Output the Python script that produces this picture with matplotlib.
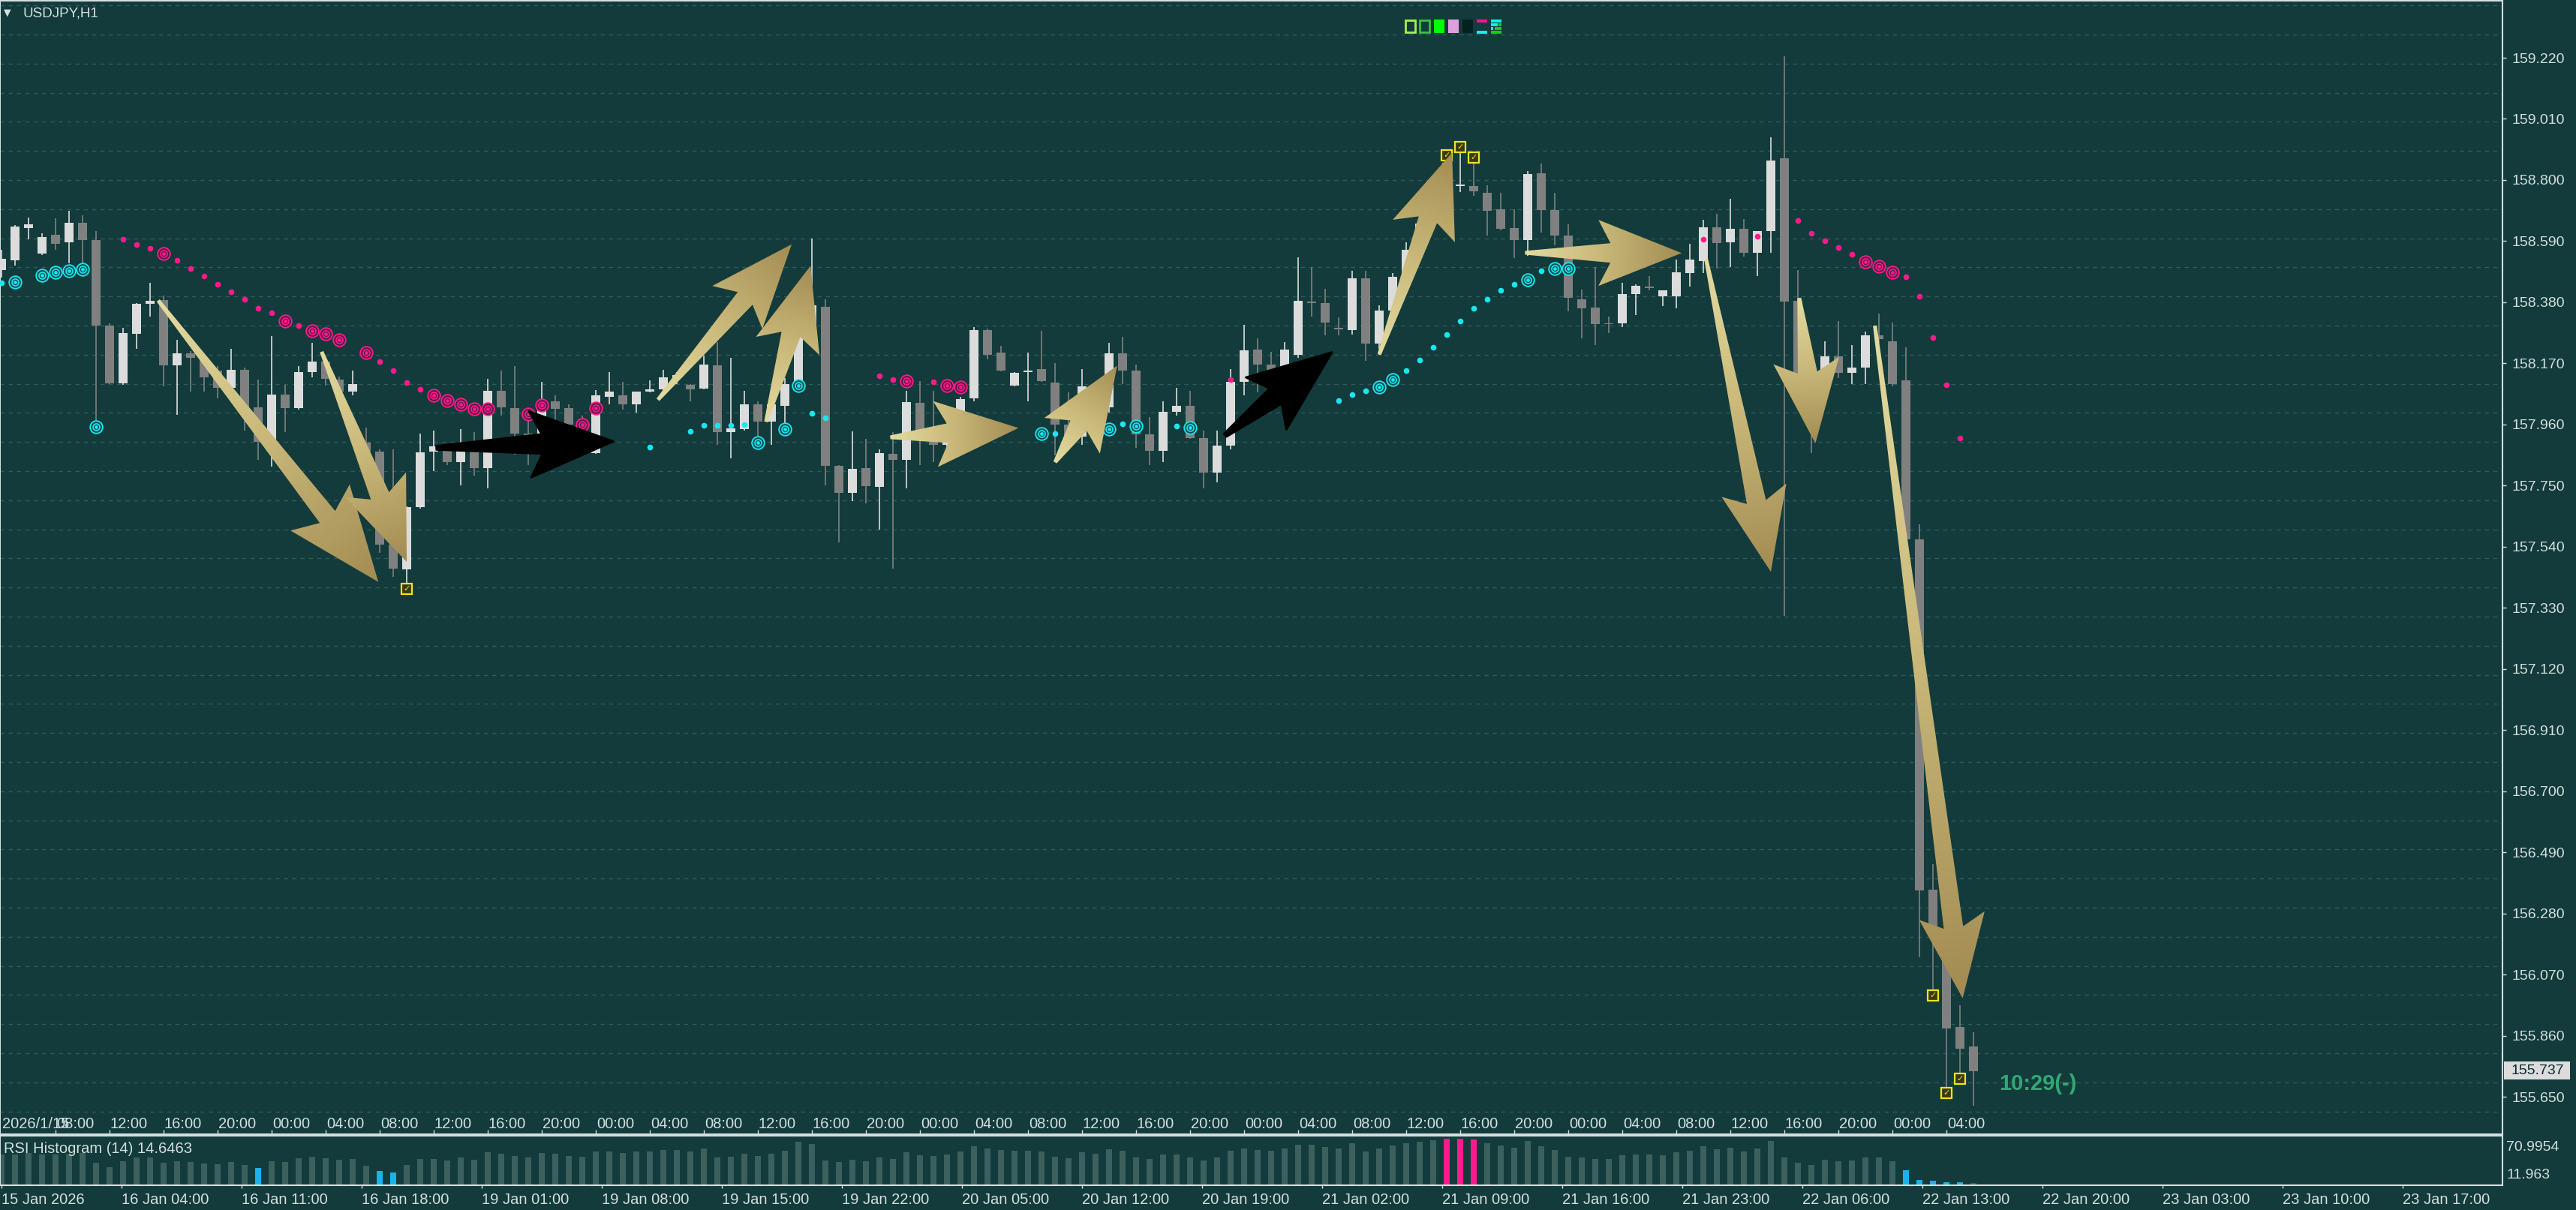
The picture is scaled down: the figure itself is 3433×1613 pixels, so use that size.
import numpy as np
import pandas as pd
import matplotlib
matplotlib.use("Agg")
import matplotlib.pyplot as plt
import matplotlib.transforms as mtransforms
from matplotlib.patches import Polygon, Rectangle
from matplotlib.colors import LinearSegmentedColormap

# размеры картинки и цвета терминала
W, H, DPI = 3433, 1613, 100
BG = '#133b3b'
FG = '#d4dede'
GRID = '#2f5a5a'
BULL = '#dcdcdc'
BEAR = '#808080'
PINK = '#ff1a8c'
CYAN = '#16e8f0'

plt.rcParams['font.family'] = ['Liberation Sans', 'DejaVu Sans']

# бары H1: 15-16 янв и 19-23 янв (выходные пропущены)
bar_times = list(pd.date_range('2026-01-15 04:00', '2026-01-16 23:00', freq='h')) + \
    list(pd.date_range('2026-01-19 00:00', '2026-01-23 06:00', freq='h'))

opens = [158.490, 158.524, 158.636, 158.547, 158.611, 158.586, 158.653, 158.593, 158.300, 158.102,
         158.272, 158.375, 158.387, 158.163, 158.204, 158.190, 158.146, 158.086, 158.149, 158.020,
         157.900, 158.062, 158.017, 158.140, 158.176, 158.114, 158.073, 157.898, 157.868, 157.548,
         157.463, 157.677, 157.868, 157.884, 157.830, 157.893, 157.810, 158.075, 158.017, 157.930,
         157.900, 158.040, 158.017, 157.960, 157.861, 158.056, 158.060, 158.030, 158.073, 158.080,
         158.120, 158.097, 158.083, 158.163, 157.934, 157.944, 158.029, 157.970, 158.024, 158.100,
         158.280, 158.365, 157.817, 157.725, 157.810, 157.746, 157.860, 157.838, 158.035, 157.940,
         157.890, 157.893, 158.050, 158.284, 158.206, 158.095, 158.139, 158.150, 158.104, 157.960,
         157.918, 158.020, 158.020, 158.205, 158.145, 157.927, 157.870, 158.004, 158.024, 157.913,
         157.796, 157.888, 158.107, 158.217, 158.167, 158.120, 158.200, 158.383, 158.376, 158.291,
         158.284, 158.461, 158.238, 158.351, 158.460, 158.560, 158.650, 158.760, 158.780, 158.780,
         158.756, 158.700, 158.634, 158.595, 158.822, 158.697, 158.609, 158.391, 158.362, 158.306,
         158.307, 158.408, 158.432, 158.400, 158.401, 158.480, 158.522, 158.638, 158.585, 158.632,
         158.549, 158.625, 158.875, 158.384, 158.120, 158.125, 158.194, 158.138, 158.155, 158.266,
         158.246, 158.112, 157.566, 156.363, 156.226, 155.889, 155.822]

highs = [158.560, 158.645, 158.671, 158.616, 158.668, 158.694, 158.678, 158.625, 158.307, 158.292,
         158.378, 158.447, 158.404, 158.252, 158.211, 158.200, 158.160, 158.220, 158.155, 158.114,
         158.263, 158.096, 158.160, 158.241, 158.190, 158.125, 158.144, 157.950, 157.875, 157.874,
         157.680, 157.930, 157.940, 157.890, 157.944, 157.935, 158.118, 158.145, 158.162, 158.010,
         158.107, 158.060, 158.030, 157.990, 158.077, 158.140, 158.107, 158.073, 158.113, 158.149,
         158.140, 158.100, 158.197, 158.243, 158.190, 158.075, 158.040, 158.050, 158.120, 158.350,
         158.600, 158.390, 157.820, 157.936, 157.910, 157.875, 157.933, 158.075, 158.110, 158.075,
         157.960, 158.055, 158.296, 158.290, 158.230, 158.140, 158.208, 158.282, 158.171, 158.070,
         158.150, 158.100, 158.240, 158.260, 158.167, 157.985, 158.040, 158.087, 158.076, 157.940,
         157.940, 158.150, 158.302, 158.255, 158.210, 158.243, 158.535, 158.500, 158.426, 158.328,
         158.487, 158.487, 158.370, 158.480, 158.586, 158.680, 158.780, 158.900, 158.899, 158.862,
         158.782, 158.755, 158.700, 158.830, 158.857, 158.756, 158.648, 158.424, 158.500, 158.331,
         158.448, 158.441, 158.471, 158.420, 158.526, 158.580, 158.664, 158.684, 158.736, 158.665,
         158.613, 158.947, 159.224, 158.490, 158.150, 158.246, 158.316, 158.234, 158.279, 158.342,
         158.310, 158.226, 157.616, 156.450, 156.250, 155.964, 155.873]

lows = [158.465, 158.505, 158.597, 158.542, 158.561, 158.515, 158.505, 157.958, 158.100, 158.096,
        158.220, 158.330, 158.091, 157.994, 158.073, 158.073, 158.050, 158.080, 157.940, 157.838,
        157.815, 157.934, 158.010, 158.122, 158.095, 158.060, 158.059, 157.850, 157.520, 157.437,
        157.405, 157.670, 157.800, 157.820, 157.750, 157.785, 157.741, 157.990, 157.856, 157.820,
        157.880, 157.970, 157.930, 157.900, 157.858, 158.030, 158.010, 158.002, 158.070, 158.075,
        158.100, 158.040, 158.080, 157.891, 157.845, 157.940, 157.900, 157.890, 157.957, 158.090,
        158.260, 157.750, 157.554, 157.697, 157.690, 157.600, 157.465, 157.740, 157.820, 157.830,
        157.850, 157.890, 158.040, 158.183, 158.143, 158.090, 158.040, 158.107, 157.853, 157.870,
        157.890, 157.950, 158.000, 158.100, 157.880, 157.820, 157.830, 157.990, 157.910, 157.741,
        157.760, 157.874, 158.060, 158.070, 158.080, 158.100, 158.190, 158.330, 158.266, 158.266,
        158.270, 158.180, 158.220, 158.330, 158.440, 158.540, 158.630, 158.740, 158.758, 158.745,
        158.610, 158.627, 158.533, 158.540, 158.619, 158.575, 158.349, 158.257, 158.233, 158.274,
        158.296, 158.337, 158.420, 158.368, 158.358, 158.435, 158.480, 158.496, 158.500, 158.538,
        158.470, 158.550, 157.303, 158.070, 157.862, 158.100, 158.120, 158.100, 158.100, 158.240,
        158.090, 157.550, 156.131, 155.998, 155.650, 155.723, 155.620]

closes = [158.530, 158.641, 158.648, 158.604, 158.582, 158.653, 158.593, 158.300, 158.102, 158.273,
          158.375, 158.384, 158.163, 158.204, 158.190, 158.121, 158.086, 158.149, 158.020, 157.900,
          158.062, 158.017, 158.140, 158.176, 158.117, 158.073, 158.100, 157.868, 157.548, 157.465,
          157.677, 157.864, 157.884, 157.831, 157.893, 157.810, 158.075, 158.020, 157.930, 157.900,
          158.013, 158.015, 157.960, 157.930, 158.060, 158.073, 158.030, 158.073, 158.080, 158.123,
          158.130, 158.082, 158.166, 157.934, 157.948, 158.029, 157.970, 158.030, 158.100, 158.283,
          158.370, 157.817, 157.725, 157.807, 157.748, 157.861, 157.838, 158.038, 157.940, 157.890,
          157.950, 158.047, 158.284, 158.199, 158.146, 158.137, 158.146, 158.109, 157.960, 157.918,
          158.091, 158.070, 158.205, 158.144, 157.927, 157.870, 158.004, 158.024, 157.913, 157.796,
          157.888, 158.107, 158.215, 158.167, 158.120, 158.217, 158.385, 158.378, 158.309, 158.286,
          158.461, 158.238, 158.351, 158.468, 158.560, 158.650, 158.765, 158.860, 158.784, 158.762,
          158.694, 158.632, 158.595, 158.820, 158.697, 158.609, 158.395, 158.358, 158.305, 158.305,
          158.408, 158.437, 158.430, 158.420, 158.483, 158.526, 158.638, 158.583, 158.632, 158.549,
          158.625, 158.868, 158.382, 158.125, 158.020, 158.194, 158.138, 158.155, 158.266, 158.253,
          158.099, 157.566, 156.360, 156.226, 155.886, 155.815, 155.737]

# точки SAR снизу (голубые) и сверху (розовые); ring - точки в виде мишени
sar_up_idx = [0, 1, 3, 4, 5, 6, 7, 48, 51, 52, 53, 54, 55, 56, 58, 59, 60, 61,
              77, 78, 81, 82, 83, 84, 87, 88,
              99, 100, 101, 102, 103, 104, 105, 106, 107, 108, 109, 110, 111, 112, 113, 114, 115, 116]
sar_up_val = [158.448, 158.450, 158.473, 158.484, 158.488, 158.492, 157.953, 157.882, 157.936, 157.956,
              157.957, 157.956, 157.960, 157.898, 157.945, 158.093, 157.999, 157.983,
              157.930, 157.929, 157.936, 157.943, 157.961, 157.955, 157.955, 157.950,
              158.042, 158.064, 158.076, 158.088, 158.114, 158.144, 158.182, 158.224, 158.270, 158.316,
              158.360, 158.390, 158.422, 158.441, 158.458, 158.487, 158.497, 158.496]
sar_up_ring = [1, 3, 4, 5, 6, 7, 56, 58, 59, 77, 82, 84, 88, 102, 103, 113, 115, 116]

sar_dn_idx = [9, 10, 11, 12, 13, 14, 15, 16, 17, 18, 19, 20, 21, 22, 23, 24, 25,
              27, 28, 29, 30, 31, 32, 33, 34, 35, 36, 39, 40, 43, 44,
              65, 66, 67, 69, 70, 71, 91, 126, 130,
              133, 134, 135, 136, 137, 138, 139, 140, 141, 142, 143, 144, 145]
sar_dn_val = [158.597, 158.579, 158.565, 158.547, 158.524, 158.496, 158.471, 158.441, 158.416, 158.390,
              158.358, 158.344, 158.315, 158.300, 158.283, 158.271, 158.250,
              158.206, 158.176, 158.144, 158.105, 158.082, 158.061, 158.043, 158.029, 158.015, 158.015,
              157.996, 158.027, 157.960, 158.017,
              158.128, 158.114, 158.108, 158.107, 158.093, 158.088, 158.114, 158.596, 158.607,
              158.660, 158.618, 158.592, 158.568, 158.545, 158.518, 158.503, 158.484, 158.467, 158.400,
              158.259, 158.096, 157.914]
sar_dn_ring = [12, 21, 23, 24, 25, 27, 32, 33, 34, 35, 36, 39, 40, 43, 44, 67, 70, 71, 138, 139, 140]

# жёлтые отметки
check_idx = [30, 107, 108, 109, 143, 144, 145]
check_val = [157.395, 158.885, 158.914, 158.877, 155.998, 155.664, 155.713]

# RSI (14)
rsi = [48.5, 48.5, 50.3, 48.5, 48.5, 48.5, 50.0, 38.9, 33.5, 40.7,
       44.9, 44.9, 38.9, 40.7, 40.1, 38.0, 37.1, 39.8, 35.9, 32.6,
       40.7, 39.5, 44.3, 46.1, 44.3, 42.5, 43.4, 35.3, 29.0, 27.2,
       36.2, 43.4, 43.4, 41.9, 45.2, 42.5, 51.5, 49.7, 47.0, 45.2,
       50.6, 49.7, 47.0, 46.1, 52.4, 52.4, 50.6, 52.4, 52.4, 54.2,
       54.2, 52.4, 56.0, 45.2, 46.1, 49.7, 47.0, 49.7, 53.3, 64.1,
       61.4, 41.6, 39.8, 42.5, 40.7, 45.2, 43.4, 51.5, 47.9, 47.0,
       48.8, 52.4, 58.7, 56.0, 54.2, 53.3, 53.3, 52.4, 46.1, 44.3,
       51.5, 49.7, 55.1, 53.3, 45.2, 43.4, 48.8, 48.8, 45.2, 41.6,
       45.2, 53.3, 56.0, 54.2, 53.3, 56.0, 60.5, 60.5, 57.8, 56.0,
       62.3, 52.4, 56.0, 59.6, 62.3, 64.1, 65.9, 67.4, 67.4, 66.8,
       62.3, 59.6, 56.9, 65.0, 58.7, 54.2, 46.1, 45.2, 43.4, 43.4,
       47.9, 48.8, 48.8, 47.9, 51.5, 53.3, 58.7, 55.1, 56.9, 52.4,
       56.0, 65.0, 45.2, 38.9, 36.2, 42.5, 40.7, 41.6, 45.2, 45.2,
       40.7, 29.9, 18.3, 17.4, 15.6, 15.6, 14.6]
rsi_low_idx = [19, 28, 29, 141, 142, 143, 144, 145]
rsi_high_idx = [107, 108, 109]
rsi_min, rsi_max = 11.963, 70.9954

price_ticks = [159.22, 159.01, 158.80, 158.59, 158.38, 158.17, 157.96, 157.75, 157.54,
               157.33, 157.12, 156.91, 156.70, 156.49, 156.28, 156.07, 155.86, 155.65]
price_labels = ['159.220', '159.010', '158.800', '158.590', '158.380', '158.170', '157.960',
                '157.750', '157.540', '157.330', '157.120', '156.910', '156.700', '156.490',
                '156.280', '156.070', '155.860', '155.650']

bottom_labels = ['15 Jan 2026', '16 Jan 04:00', '16 Jan 11:00', '16 Jan 18:00', '19 Jan 01:00',
                 '19 Jan 08:00', '19 Jan 15:00', '19 Jan 22:00', '20 Jan 05:00', '20 Jan 12:00',
                 '20 Jan 19:00', '21 Jan 02:00', '21 Jan 09:00', '21 Jan 16:00', '21 Jan 23:00',
                 '22 Jan 06:00', '22 Jan 13:00', '22 Jan 20:00', '23 Jan 03:00', '23 Jan 10:00',
                 '23 Jan 17:00']

# стрелки: (x0, y0, x1, y1) в барах и цене
gold_arrows = [(11.6, 158.386, 27.9, 157.419), (23.7, 158.210, 30.0, 157.488),
               (48.6, 158.045, 58.5, 158.579), (56.6, 157.969, 59.9, 158.505),
               (65.8, 157.916, 75.3, 157.948), (78.0, 157.830, 82.6, 158.162),
               (102.0, 158.200, 107.4, 158.894), (112.8, 158.550, 124.4, 158.549),
               (126.2, 158.529, 131.0, 157.454), (133.1, 158.395, 134.3, 157.895),
               (138.7, 158.300, 145.2, 155.989)]
black_arrows = [(32.2, 157.880, 45.3, 157.902), (90.6, 157.923, 98.5, 158.208)]

o, h, l, c = map(np.array, (opens, highs, lows, closes))
idx = np.arange(len(o))


def fbox(left, top, right, bottom):
    return [left / W, 1 - bottom / H, (right - left) / W, (bottom - top) / H]


def px2price(py):
    return 159.22 - (py - 77) / 388


fig = plt.figure(figsize=(W / DPI, H / DPI), dpi=DPI, facecolor=BG)
ax = fig.add_axes(fbox(0, 1, 3335, 1512))
rax = fig.add_axes(fbox(0, 1514, 3335, 1580))
xlo, xhi = -2 / 18, (3335 - 2) / 18

for a in (ax, rax):
    a.set_facecolor(BG)
    for s in a.spines.values():
        s.set_color(FG)
        s.set_linewidth(1.5)

ax.set_xlim(xlo, xhi)
ax.set_ylim(px2price(1512), px2price(1))
ax.set_autoscale_on(False)

# сетка
ax.hlines(np.round(np.arange(155.6, 159.45, 0.1), 1), xlo, xhi, colors=GRID,
          linestyles=(0, (4, 4)), linewidth=1, zorder=1)

# свечи
cols = np.where(c >= o, BULL, BEAR)
ax.vlines(idx, l, h, colors=cols, linewidth=1.2, zorder=3)
ax.bar(idx, np.maximum(np.abs(c - o), 0.003), bottom=np.minimum(o, c), width=0.72,
       color=cols, linewidth=0, zorder=4)


def sar(ids, vals, rings, color, dark):
    for i, v in zip(ids, vals):
        if i in rings:
            ax.plot(i, v, 'o', ms=12, mfc=dark, mec=color, mew=1.3, zorder=5)
            ax.plot(i, v, 'o', ms=6.5, mfc='none', mec=color, mew=1.2, zorder=5)
            ax.plot(i, v, 'o', ms=2.4, color=color, zorder=5)
        else:
            ax.plot(i, v, 'o', ms=5.5, color=color, mec='none', zorder=5)


sar(sar_up_idx, sar_up_val, sar_up_ring, CYAN, '#124f55')
sar(sar_dn_idx, sar_dn_val, sar_dn_ring, PINK, '#5e1845')

for i, v in zip(check_idx, check_val):
    ax.plot(i, v, 's', ms=10, mfc='#3a3a12', mec='#f2e31a', mew=1.6, zorder=6)
    ax.text(i, v, '✓', family='DejaVu Sans', fontsize=8, color='#f2e31a',
            ha='center', va='center', zorder=6)

# ось цены справа
ax.yaxis.tick_right()
ax.set_yticks(price_ticks)
ax.set_yticklabels(price_labels)
ax.tick_params(axis='y', colors=FG, labelsize=14, length=3.5, width=1, pad=5.5)
ax.tick_params(axis='x', bottom=False, labelbottom=False)

# верхняя шкала времени внутри окна графика
trans = mtransforms.blended_transform_factory(ax.transData, ax.transAxes)
tick_i = [i for i in idx if i % 4 == 0 and i > 0]
ax.vlines(tick_i, 0, 6 / 1511, transform=trans, colors=FG, linewidth=1, zorder=2)
ax.text(0.05, 14 / 1511, bar_times[0].strftime('%Y/%-m/%d'), transform=trans, color=FG,
        fontsize=14.5, ha='left', va='center')
for i in tick_i:
    ax.text(i + 0.05, 14 / 1511, bar_times[i].strftime('%H:%M'), transform=trans, color=FG,
            fontsize=14.5, ha='left', va='center')

# текущая цена и таймер
fig.add_artist(Rectangle((3337 / W, 1 - 1439 / H), 88 / W, 24 / H, transform=fig.transFigure,
                         facecolor='#dcdcdc', edgecolor='none'))
fig.text(3347 / W, 1 - 1427 / H, f'{closes[-1]:.3f}', color='#0f2a2a', fontsize=14,
         ha='left', va='center')
ax.text(len(o) + 0.9, px2price(1445), '10:29(-)', color='#33a874', fontsize=21,
        fontweight='bold', ha='left', va='center', zorder=6)


# стрелки
gold_cmap = LinearSegmentedColormap.from_list('gold', ['#e4dba0', '#c8b778', '#a38c53'])


def arrow_outline(x0, y0, x1, y1, head_len=95, head_w=88, shaft_w=26, tail_w=5, barb=16):
    p0 = ax.transData.transform((x0, y0))
    p1 = ax.transData.transform((x1, y1))
    d = p1 - p0
    L = np.hypot(*d)
    u = d / L
    n = np.array([-u[1], u[0]])
    base = p1 - u * head_len
    back = base - u * barb
    pts = np.array([p0 + n * tail_w / 2, base + n * shaft_w / 2, back + n * head_w / 2, p1,
                    back - n * head_w / 2, base - n * shaft_w / 2, p0 - n * tail_w / 2])
    return ax.transData.inverted().transform(pts), p0, u, L


for k, (x0, y0, x1, y1) in enumerate(gold_arrows):
    big = k == 0
    pts, p0, u, L = arrow_outline(x0, y0, x1, y1, head_len=110 if big else 95,
                                  head_w=100 if big else 88)
    poly = Polygon(pts, closed=True, facecolor='none', edgecolor='none', zorder=8)
    ax.add_patch(poly)
    (xa, ya), (xb, yb) = pts.min(axis=0), pts.max(axis=0)
    gx, gy = np.meshgrid(np.linspace(xa, xb, 80), np.linspace(ya, yb, 80))
    disp = ax.transData.transform(np.column_stack([gx.ravel(), gy.ravel()]))
    t = np.clip(((disp - p0) @ u) / L, 0, 1).reshape(gx.shape)
    im = ax.imshow(t, extent=(xa, xb, ya, yb), origin='lower', cmap=gold_cmap, vmin=0, vmax=1,
                   aspect='auto', interpolation='bilinear', zorder=8)
    im.set_clip_path(poly)

for x0, y0, x1, y1 in black_arrows:
    pts, _, _, _ = arrow_outline(x0, y0, x1, y1)
    ax.add_patch(Polygon(pts, closed=True, facecolor='black', edgecolor='black', linewidth=2,
                         joinstyle='round', zorder=8))

ax.set_xlim(xlo, xhi)
ax.set_ylim(px2price(1512), px2price(1))

# окно RSI
rcols = ['#1ab2ea' if i in rsi_low_idx else PINK if i in rsi_high_idx else '#3b605e' for i in idx]
rax.bar(idx, np.array(rsi) - rsi_min, bottom=rsi_min, width=0.42, color=rcols, linewidth=0)
rax.set_xlim(xlo, xhi)
rax.set_ylim(rsi_min, rsi_max)
rax.set_yticks([])
rax.set_xticks([k * 160 / 18 for k in range(len(bottom_labels))])
rax.set_xticklabels(bottom_labels)
rax.tick_params(axis='x', colors=FG, labelsize=14.5, length=3, width=1, pad=4)
for lbl in rax.get_xticklabels():
    lbl.set_horizontalalignment('left')
rax.text(0.0015, 0.73, 'RSI Histogram (14) 14.6463', transform=rax.transAxes, color=FG,
         fontsize=14.5, ha='left', va='center')
rax.text(1.0015, 0.76, f'{rsi_max}', transform=rax.transAxes, color=FG, fontsize=14,
         ha='left', va='center')
rax.text(1.0015, 0.2, f'{rsi_min}', transform=rax.transAxes, color=FG, fontsize=14,
         ha='left', va='center')

# заголовок
fig.text(10 / W, 1 - 17 / H, '▼', family='DejaVu Sans', color=FG, fontsize=9, ha='center', va='center')
fig.text(30 / W, 1 - 18 / H, 'USDJPY,H1', color=FG, fontsize=13.5, ha='left', va='center')


# значки индикаторов вверху
def rect_px(left, top, right, bottom, fc='none', ec='none', lw=0):
    fig.add_artist(Rectangle((left / W, 1 - bottom / H), (right - left) / W, (bottom - top) / H,
                             transform=fig.transFigure, facecolor=fc, edgecolor=ec, linewidth=lw))


rect_px(1873, 27, 1886, 43, ec='#a8f050', lw=2)
rect_px(1892, 27, 1905, 43, ec='#3cc03c', lw=2)
rect_px(1911, 26, 1925, 44, fc='#00ff00')
rect_px(1930, 26, 1944, 44, fc='#dda0dd')
rect_px(1949, 26, 1963, 44, fc='#022222')
rect_px(1968, 26, 1982, 30, fc='#ff1493')
rect_px(1968, 41, 1982, 45, fc='#10f0f0')
rect_px(1987, 26, 2001, 30, fc='#10f0f0')
rect_px(1987, 31, 1996, 35, fc='#10f0f0')
rect_px(1997, 31, 2001, 35, fc='#10d010')
rect_px(1987, 36, 1990, 40, fc='#10f0f0')
rect_px(1992, 36, 2001, 40, fc='#10d010')
rect_px(1987, 41, 2001, 45, fc='#10d010')

fig.savefig('out.png', dpi=DPI, facecolor=BG)
